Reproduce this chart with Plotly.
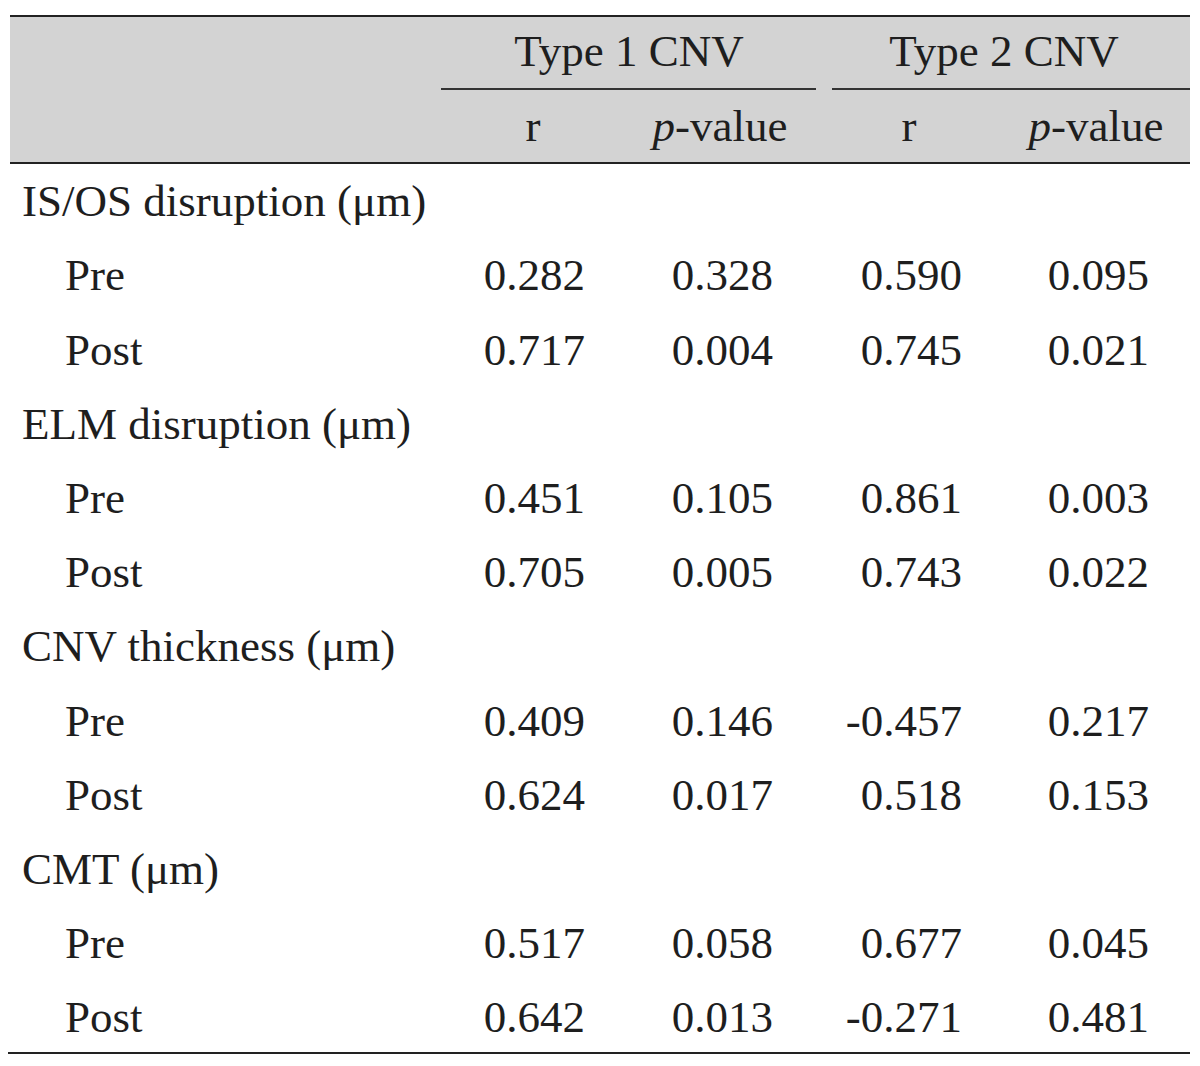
import plotly.graph_objects as go

# ---- data ----
groups = ["Type 1 CNV", "Type 2 CNV"]
subheads = ["r", "<i>p</i>-value", "r", "<i>p</i>-value"]
categories = ["IS/OS disruption (μm)", "ELM disruption (μm)", "CNV thickness (μm)", "CMT (μm)"]
timepoints = ["Pre", "Post"]
type1_r = ["0.282", "0.717", "0.451", "0.705", "0.409", "0.624", "0.517", "0.642"]
type1_p = ["0.328", "0.004", "0.105", "0.005", "0.146", "0.017", "0.058", "0.013"]
type2_r = ["0.590", "0.745", "0.861", "0.743", "-0.457", "0.518", "0.677", "-0.271"]
type2_p = ["0.095", "0.021", "0.003", "0.022", "0.217", "0.153", "0.045", "0.481"]

# ---- layout constants (page pixel coordinates; page has an 8px body margin) ----
PAD = 8
W, H = 1200 - 2 * PAD, 1066 - 2 * PAD
FONT = "Liberation Serif, Times New Roman, serif"
FS = 45
TXT = "#1e1e1e"
row0, pitch = 205, 74.2
col_right = [585, 773, 962, 1149]
col_center = [533, 720, 909, 1096]
group_center = [629, 1004]
x_cat, x_sub = 22, 65

fig = go.Figure()

shapes = [
    dict(type="rect", x0=10, x1=1190, y0=16, y1=163, fillcolor="#d3d3d3", line_width=0, layer="below"),
    dict(type="line", x0=10, x1=1190, y0=16, y1=16, line=dict(color="#222", width=2)),
    dict(type="line", x0=441, x1=816, y0=89, y1=89, line=dict(color="#333", width=2)),
    dict(type="line", x0=832, x1=1190, y0=89, y1=89, line=dict(color="#333", width=2)),
    dict(type="line", x0=10, x1=1190, y0=163, y1=163, line=dict(color="#222", width=2)),
    dict(type="line", x0=6, x1=1190, y0=1053, y1=1053, line=dict(color="#222", width=2)),
]

fig.add_trace(go.Scatter(x=group_center, y=[55, 55], text=groups, mode="text",
                         textposition="middle center",
                         textfont=dict(family=FONT, size=FS, color=TXT)))
fig.add_trace(go.Scatter(x=col_center, y=[130] * 4, text=subheads, mode="text",
                         textposition="middle center",
                         textfont=dict(family=FONT, size=FS, color=TXT)))

cat_y, sub_y, sub_txt = [], [], []
r = 0
for c in categories:
    cat_y.append(row0 + pitch * r)
    r += 1
    for t in timepoints:
        sub_y.append(row0 + pitch * r)
        sub_txt.append(t)
        r += 1

fig.add_trace(go.Scatter(x=[x_cat] * len(categories), y=cat_y, text=categories, mode="text",
                         textposition="middle right",
                         textfont=dict(family=FONT, size=FS, color=TXT)))
fig.add_trace(go.Scatter(x=[x_sub] * len(sub_txt), y=sub_y, text=sub_txt, mode="text",
                         textposition="middle right",
                         textfont=dict(family=FONT, size=FS, color=TXT)))

for xr, vals in zip(col_right, [type1_r, type1_p, type2_r, type2_p]):
    fig.add_trace(go.Scatter(x=[xr] * len(vals), y=sub_y, text=vals, mode="text",
                             textposition="middle left",
                             textfont=dict(family=FONT, size=FS, color=TXT)))

fig.update_layout(
    width=W, height=H, margin=dict(l=0, r=0, t=0, b=0),
    paper_bgcolor="white", plot_bgcolor="white", showlegend=False,
    shapes=shapes,
    xaxis=dict(range=[PAD, PAD + W], visible=False, fixedrange=True),
    yaxis=dict(range=[PAD + H, PAD], visible=False, fixedrange=True),
)
fig.update_traces(hoverinfo="skip", cliponaxis=False)

fig.write_html("out.html")
